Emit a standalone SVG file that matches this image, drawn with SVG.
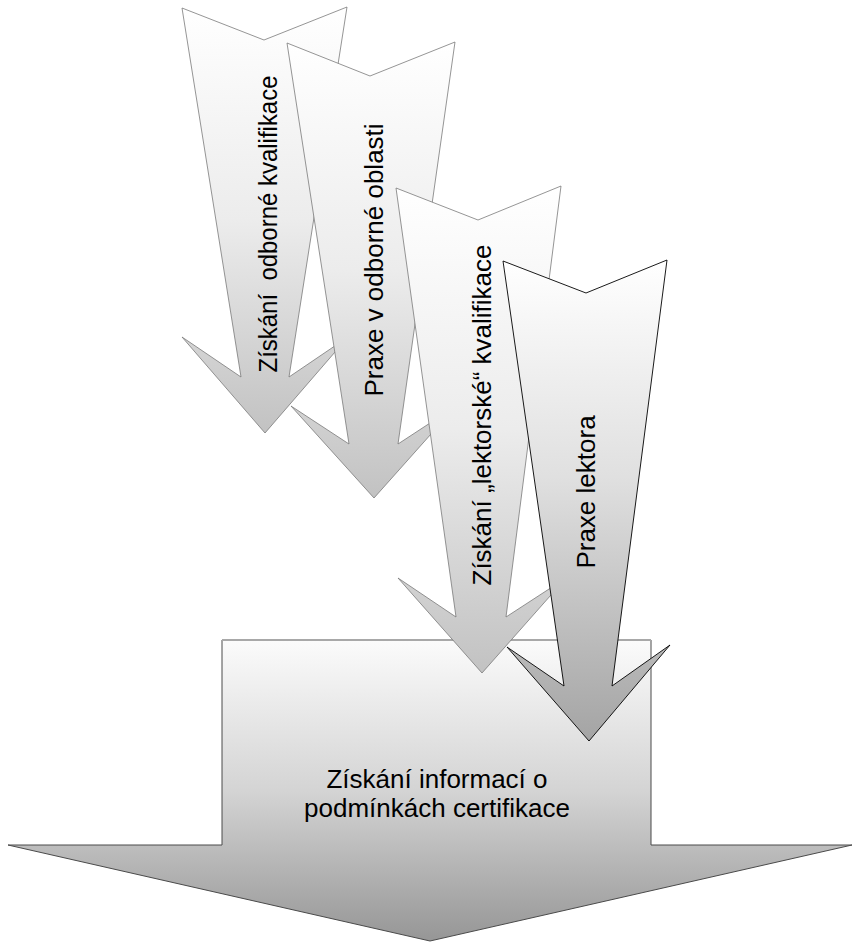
<svg xmlns="http://www.w3.org/2000/svg" width="853" height="942" viewBox="0 0 853 942">
<defs>
<linearGradient id="gLight" x1="0" y1="0" x2="0" y2="1">
<stop offset="0" stop-color="#ffffff"/>
<stop offset="0.5" stop-color="#ececec"/>
<stop offset="1" stop-color="#c2c2c2"/>
</linearGradient>
<linearGradient id="gDark" x1="0" y1="0" x2="0" y2="1">
<stop offset="0" stop-color="#ffffff"/>
<stop offset="0.45" stop-color="#e0e0e0"/>
<stop offset="1" stop-color="#a4a4a4"/>
</linearGradient>
<linearGradient id="gBig" x1="0" y1="0" x2="0" y2="1">
<stop offset="0" stop-color="#fbfbfb"/>
<stop offset="0.5" stop-color="#d4d4d4"/>
<stop offset="1" stop-color="#969696"/>
</linearGradient>
</defs>
<style>
.a{fill:url(#gLight);stroke:#7a7a7a;stroke-width:0.8;stroke-linejoin:miter}
.a4{fill:url(#gDark);stroke:#000000;stroke-width:0.9}
.big{fill:url(#gBig);stroke:#4a4a4a;stroke-width:1}
.t{font-family:"Liberation Sans",Arial,sans-serif;font-size:26px;fill:#000000;text-anchor:middle}
</style>
<g id="result">
<polygon class="big" points="222,640 651,640 651,845 852,845 430,941 8,845 222,845"/>
<line x1="222" y1="640" x2="651" y2="640" stroke="#a8a8a8" stroke-width="2"/>
<text class="t" x="437" y="788">Získání informací o</text>
<text class="t" x="437" y="817">podmínkách certifikace</text>
</g>
<g id="odborna-kvalifikace">
<polygon class="a" points="182,8 264,40 347,7 289,377 348,337 265,433 182,337 241,377"/>
<text class="t" xml:space="preserve" style="white-space:pre" transform="translate(277,224) rotate(-90)" textLength="297" lengthAdjust="spacingAndGlyphs">Získání  odborné kvalifikace</text>
</g>
<g id="praxe-odborna">
<polygon class="a" points="287,43 370,76 455,42 398,444 456,406 374,498 291,406 349,444"/>
<text class="t" transform="translate(383,260) rotate(-90)">Praxe v odborné oblasti</text>
</g>
<g id="lektorska-kvalifikace">
<polygon class="a" points="396,188 478,220 561,186 506,617 566,578 482,673 398,578 456,617"/>
<text class="t" transform="translate(491,415) rotate(-90)">Získání „lektorské“ kvalifikace</text>
</g>
<g id="praxe-lektora">
<polygon class="a4" points="503,261 586,293 667,260 612,686 670,645 589,741 507,647 564,686"/>
<text class="t" transform="translate(595,492) rotate(-90)">Praxe lektora</text>
</g>
<g id="connectors"/>
</svg>
